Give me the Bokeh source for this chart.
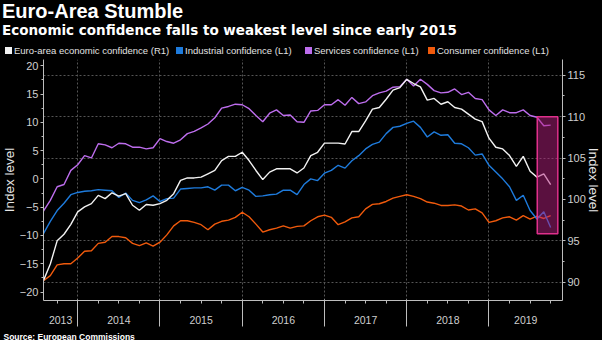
from bokeh.plotting import figure
from bokeh.layouts import column
from bokeh.models import (Range1d, LinearAxis, FixedTicker, Grid, BoxAnnotation, Title, Div)
from bokeh.embed import file_html
from bokeh.resources import INLINE

# ---------------- data (monthly, Jul 2013 .. Sep 2019) ----------------
start_year, start_month, n_months = 2013, 7, 75

esi = [90.2, 92.2, 95.0, 95.8, 97.0, 98.5, 99.1, 99.5, 100.5, 100.1, 100.8, 100.4,
       100.7, 99.3, 98.7, 99.4, 99.3, 99.5, 99.9, 100.7, 102.3, 102.6, 102.6, 102.7,
       103.1, 103.5, 104.7, 105.2, 105.2, 105.7, 104.7, 103.5, 102.4, 103.3, 103.7, 103.7,
       103.7, 103.2, 103.8, 105.3, 105.7, 106.8, 106.8, 106.8, 106.7, 108.2, 108.2, 109.5,
       110.9, 111.1, 112.1, 113.2, 113.5, 114.5, 114.0, 113.6, 112.0, 112.2, 111.5, 111.8,
       111.1, 110.9, 110.3, 109.7, 109.4, 107.4, 106.3, 106.1, 105.3, 104.0, 105.2, 103.4,
       102.7, 103.1, 101.8]

industrial = [-9.7, -7.5, -5.6, -4.3, -2.8, -2.4, -2.2, -2.1, -1.9, -2.0, -2.1, -3.3,
              -2.5, -3.8, -4.2, -3.7, -3.0, -4.0, -3.5, -3.4, -1.8, -1.7, -1.6, -1.6,
              -1.4, -2.0, -1.1, -1.1, -2.1, -1.5, -2.0, -3.1, -3.0, -2.8, -2.7, -2.0,
              -2.0, -2.8, -1.0, 0.0, -0.3, 1.0, 1.5, 2.4, 1.9, 3.2, 4.1, 5.3,
              6.1, 6.5, 8.0, 9.1, 9.3, 9.8, 10.2, 9.1, 7.4, 8.3, 7.7, 7.8,
              6.3, 6.2, 5.5, 4.2, 4.4, 2.4, 1.2, 0.0, -1.4, -3.8, -2.9, -5.6,
              -7.1, -5.8, -8.6]

services = [-5.7, -3.8, -1.4, -1.0, 1.5, 2.5, 4.1, 3.7, 6.2, 6.0, 5.5, 6.3,
            6.2, 5.6, 5.6, 5.3, 5.5, 7.1, 6.6, 6.3, 6.9, 8.0, 8.4, 9.0,
            9.7, 10.8, 12.5, 12.8, 13.2, 13.1, 12.4, 11.2, 10.1, 11.6, 12.2, 11.2,
            11.3, 10.1, 10.0, 12.0, 12.1, 13.1, 13.1, 14.0, 13.0, 14.4, 13.3, 13.6,
            14.7, 15.2, 15.5, 16.2, 16.3, 17.6, 16.4, 17.6, 16.7, 15.6, 15.2, 15.3,
            15.9, 14.9, 15.3, 14.2, 14.0, 12.2, 11.2, 12.2, 11.7, 11.7, 12.2, 11.2,
            10.9, 9.4, 9.5]

consumer = [-18.0, -17.1, -15.2, -15.0, -15.0, -14.0, -12.8, -12.7, -11.4, -11.2, -10.2, -10.2,
            -10.4, -11.4, -11.8, -11.3, -11.9, -11.2, -9.9, -8.3, -7.4, -7.4, -7.7, -8.1,
            -9.0, -8.0, -7.5, -7.3, -6.8, -5.9, -6.7, -8.0, -9.4, -9.0, -8.7, -8.3,
            -8.7, -8.4, -8.3, -7.4, -6.7, -6.4, -6.8, -8.1, -7.6, -6.9, -6.7, -5.3,
            -4.5, -4.4, -4.0, -3.4, -3.1, -2.8, -3.1, -3.5, -4.1, -4.3, -4.7, -4.7,
            -4.6, -4.8, -5.5, -5.3, -6.0, -7.7, -7.4, -6.9, -6.7, -7.3, -6.5, -7.1,
            -6.6, -7.0, -6.5]

legend_labels = ["Euro-area economic confidence (R1)", "Industrial confidence (L1)",
                 "Services confidence (L1)", "Consumer confidence (L1)"]
series_colors = ["#f2f2f2", "#1e7bdc", "#bd6ded", "#f05a0c"]

left_ticks = [-20, -15, -10, -5, 0, 5, 10, 15, 20]
right_ticks = [90, 95, 100, 105, 110, 115]
right_grid_values = [90, 95, 105, 110, 115]
year_labels = ["2013", "2014", "2015", "2016", "2017", "2018", "2019"]

# highlighted window (Jul 2019 .. Oct 2019, right-axis scale)
hl_left, hl_right = 2019.587, 2019.837
hl_bottom, hl_top = 95.85, 110.0

title = "Euro-Area Stumble"
subtitle = "Economic confidence falls to weakest level since early 2015"
source = "Source: European Commissions"
axis_title = "Index level"

# end-of-month positions in decimal years
xs = []
for k in range(n_months):
    m = start_month - 1 + k
    xs.append(start_year + m // 12 + (m % 12 + 1) / 12.0)

X0, X1 = 2013.584, 2019.894
FONT = "Liberation Sans"
AX = "#bdbdbd"
BG = "black"
HEAD_H = 59

# ---------------- header: title, subtitle, legend (HTML) ----------------
legend_x = [5, 176, 305, 428]
parts = []
for lab, col, lx in zip(legend_labels, series_colors, legend_x):
    parts.append(
        f'<div style="position:absolute;left:{lx}px;top:46.5px;width:7px;height:7px;background:{col}"></div>'
        f'<div style="position:absolute;left:{lx + 9}px;top:44.5px;font-size:9.5px;line-height:12px;'
        f'color:#e2e2e2;white-space:nowrap">{lab}</div>')
html = (
    f'<div style="position:relative;width:602px;height:{HEAD_H}px;background:{BG};'
    f"font-family:'{FONT}';color:white;overflow:hidden\">"
    f'<div style="position:absolute;left:2px;top:0px;font-size:20px;font-weight:bold;'
    f'line-height:23px;white-space:nowrap">{title}</div>'
    f"<div style=\"position:absolute;left:2px;top:22px;font-family:'DejaVu Sans';font-size:13.5px;"
    f'font-weight:bold;line-height:16px;white-space:nowrap">{subtitle}</div>'
    + "".join(parts) + "</div>")
head = Div(text=html, width=602, height=HEAD_H, margin=0,
           styles={"background-color": BG, "margin": "0", "padding": "0"})

# ---------------- main chart ----------------
p = figure(width=602, height=340 - HEAD_H, output_backend="svg", toolbar_location=None,
           title_location=None,
           x_range=Range1d(X0, X1), y_range=Range1d(-21.5, 21.1),
           min_border_left=42, min_border_right=40, min_border_top=0, min_border_bottom=40,
           background_fill_color=BG, border_fill_color=BG, outline_line_color=None,
           margin=0)
p.extra_y_ranges = {"right": Range1d(87.8, 116.9)}


def style_axis(ax):
    ax.axis_line_color = AX
    ax.major_tick_line_color = AX
    ax.minor_tick_line_color = AX
    ax.major_tick_out = 3
    ax.major_tick_in = 0
    ax.minor_tick_out = 2
    ax.minor_tick_in = 0
    ax.major_label_text_color = "#cfcfcf"
    ax.major_label_text_font = FONT
    ax.major_label_text_font_size = "11px"
    ax.major_label_standoff = 2


left_minor = [t + 2.5 for t in left_ticks[:-1]]
right_minor = [t + 2.5 for t in right_ticks[:-1]]

yl = p.yaxis[0]
yl.ticker = FixedTicker(ticks=left_ticks, minor_ticks=left_minor)
style_axis(yl)

yr = LinearAxis(y_range_name="right", ticker=FixedTicker(ticks=right_ticks, minor_ticks=right_minor))
style_axis(yr)
p.add_layout(yr, "right")

# axis titles as side titles (keeps the frame at the reference position)
for side, so in (("left", -1), ("right", -5)):
    p.add_layout(Title(text=axis_title, align="center", standoff=so,
                       text_font=FONT, text_font_style="normal", text_font_size="13.5px",
                       text_color="#e6e6e6"), side)

# x axis A: year names centred in each (visible) year, quarter ticks
year_starts = [int(y) for y in year_labels[1:]]
quarters = [y + q / 4.0 for y in range(2013, 2020) for q in (1, 2, 3) if X0 < y + q / 4.0 < X1]
mids = []
for lab in year_labels:
    y = int(lab)
    mids.append(round((max(y, X0) + min(y + 1, X1)) / 2, 3))
xa = p.xaxis[0]
style_axis(xa)
xa.ticker = FixedTicker(ticks=mids, minor_ticks=quarters)
xa.major_label_overrides = {m: lab for m, lab in zip(mids, year_labels)}
xa.major_tick_out = 0
xa.minor_tick_out = 3
xa.major_label_standoff = 12
xa.major_label_text_font_size = "10.5px"

# x axis B: long separators at year boundaries
xb = LinearAxis(ticker=FixedTicker(ticks=year_starts, minor_ticks=[]))
xb.axis_line_color = None
xb.major_tick_line_color = AX
xb.major_tick_in = 27
xb.major_tick_out = 0
xb.major_label_standoff = 0
xb.major_label_text_font_size = "1px"
xb.major_label_overrides = {y: " " for y in year_starts}
p.add_layout(xb, "below")

p.add_layout(Title(text=source, align="left", offset=-40, standoff=-2,
                   text_font=FONT, text_font_style="bold", text_font_size="8.5px",
                   text_color="white"), "below")

# grids
p.xgrid.ticker = FixedTicker(ticks=year_starts)
p.xgrid.grid_line_color = "#555555"
p.xgrid.grid_line_dash = "2 2"
p.ygrid.visible = False
g = Grid(dimension=1, y_range_name="right", ticker=FixedTicker(ticks=right_grid_values),
         grid_line_color="#555555", grid_line_dash="2 2")
p.add_layout(g)

# series
p.line(xs, consumer, color=series_colors[3], line_width=1.4)
p.line(xs, services, color=series_colors[2], line_width=1.4)
p.line(xs, industrial, color=series_colors[1], line_width=1.4)
p.line(xs, esi, color=series_colors[0], line_width=1.4, y_range_name="right")

# highlight box
p.add_layout(BoxAnnotation(left=hl_left, right=hl_right, bottom=hl_bottom, top=hl_top,
                           y_range_name="right", fill_color="#b4207e", fill_alpha=0.5,
                           line_color="#e0308c", line_width=1.5, line_alpha=1.0))

layout = column(head, p, spacing=0, margin=0, styles={"background-color": BG})
open("out.html", "w").write(file_html(layout, INLINE))
